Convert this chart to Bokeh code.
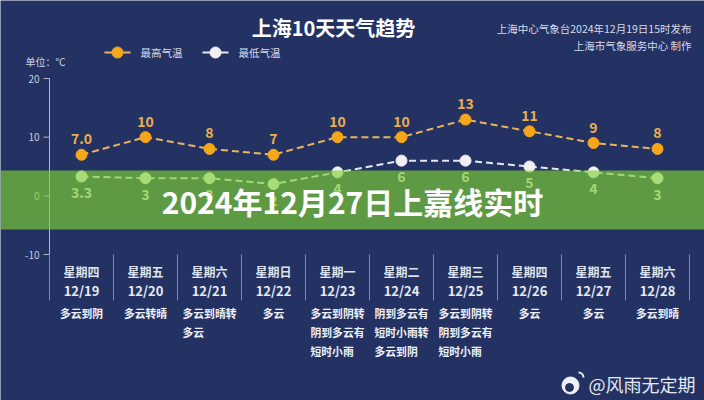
from bokeh.plotting import figure
from bokeh.models import Range1d, BoxAnnotation, Label
from bokeh.core.properties import value
from bokeh.embed import file_html
from bokeh.resources import INLINE

# ---------------- data ----------------
days = ["星期四", "星期五", "星期六", "星期日", "星期一", "星期二", "星期三", "星期四", "星期五", "星期六"]
dates = ["12/19", "12/20", "12/21", "12/22", "12/23", "12/24", "12/25", "12/26", "12/27", "12/28"]
high = [7, 10, 8, 7, 10, 10, 13, 11, 9, 8]
high_labels = ["7.0", "10", "8", "7", "10", "10", "13", "11", "9", "8"]
low = [3.3, 3, 3, 2, 4, 6, 6, 5, 4, 3]
low_labels = ["3.3", "3", "3", "2", "4", "6", "6", "5", "4", "3"]
weather = ["多云到阴", "多云转晴", "多云到晴转\n多云", "多云",
           "多云到阴转\n阴到多云有\n短时小雨", "阴到多云有\n短时小雨转\n多云到阴",
           "多云到阴转\n阴到多云有\n短时小雨", "多云", "多云", "多云到晴"]
yticks = [-10, 0, 10, 20]

# ---------------- layout helpers ----------------
W, H = 704, 400
OX, OY = 0, 0
X0, DX = 81, 64           # screen x of first band centre, band width
Y20, YM10 = 78, 254       # screen y of 20 and -10
K = (YM10 - Y20) / 30.0


def X(px):
    return (px - X0) / DX


def Y(py):
    return 20 - (py - Y20) / K


NAVY = "#233263"
FONT = "Noto Sans CJK SC"
idx = list(range(len(dates)))

p = figure(width=W, height=H, x_range=Range1d(X(OX), X(OX + W)), y_range=Range1d(Y(OY + H), Y(OY)),
           x_axis_location=None, y_axis_location=None, toolbar_location=None, output_backend="svg",
           min_border=0, background_fill_color=NAVY, border_fill_color=NAVY, outline_line_color=None)
p.grid.grid_line_color = None

# ---------------- y axis ----------------
AX = "#b3b9cc"
p.segment(x0=[-0.5], y0=[min(yticks)], x1=[-0.5], y1=[max(yticks)], line_color=AX, line_width=1)
p.segment(x0=[-0.5] * len(yticks), y0=yticks, x1=[X(43)] * len(yticks), y1=yticks, line_color=AX, line_width=1)
p.text(x=[-0.5] * len(yticks), y=yticks, text=[str(t) for t in yticks], x_offset=-10,
       text_align="right", text_baseline="middle", text_font=value(FONT), text_font_size="10px",
       text_color="#c8cddd")

# band separators below the chart
n1 = len(dates) + 1
p.segment(x0=[i - 0.5 for i in range(n1)], y0=[min(yticks)] * n1,
          x1=[i - 0.5 for i in range(n1)], y1=[Y(300)] * n1,
          line_color="#7f88a8", line_width=1)

# ---------------- series ----------------
ORANGE = "#f5a71c"
WHITE = "#f2eef3"
p.line(idx, high, line_color="#e9b45e", line_width=2, line_dash="7 4")
p.scatter(idx, high, size=11, fill_color=ORANGE, line_color=ORANGE)
p.line(idx, low, line_color="#e6e6ef", line_width=2, line_dash="7 4")
p.scatter(idx, low, size=11, fill_color=WHITE, line_color=WHITE)

p.text(x=idx, y=high, text=high_labels, y_offset=-16, text_align="center", text_baseline="middle",
       text_font=value(FONT), text_font_size="14px", text_font_style="bold", text_color="#ebb04a")
p.text(x=idx, y=low, text=low_labels, y_offset=16, text_align="center", text_baseline="middle",
       text_font=value(FONT), text_font_size="14px", text_font_style="bold", text_color="#e2dfe8")

# ---------------- bottom table ----------------
p.text(x=idx, y=[Y(271)] * len(idx), text=days, text_align="center", text_baseline="middle",
       text_font=value(FONT), text_font_size="12px", text_font_style="bold", text_color="#dfe3ee")
p.text(x=idx, y=[Y(290)] * len(idx), text=dates, text_align="center", text_baseline="middle",
       text_font=value(FONT), text_font_size="13px", text_font_style="bold", text_color="#e8ebf3")
FS = 10.8
wx, wy, wt, wo = [], [], [], []
for i, w in enumerate(weather):
    lines = w.split("\n")
    width = max(len(l) for l in lines) * FS
    for j, l in enumerate(lines):
        wx.append(i)
        wy.append(Y(312 + 19 * j))
        wt.append(l)
        wo.append(-width / 2)
p.text(x=wx, y=wy, text=wt, x_offset=wo, text_align="left", text_baseline="middle",
       text_font=value(FONT), text_font_size=f"{FS}px", text_font_style="bold", text_color="#f0f1f6")

# ---------------- header ----------------
p.add_layout(Label(x=X(333), y=Y(27), text="上海10天天气趋势", text_align="center", text_baseline="middle",
                   text_font=FONT, text_font_size="20px", text_font_style="bold", text_color="#ffffff"))
p.add_layout(Label(x=X(691), y=Y(28), text="上海中心气象台2024年12月19日15时发布", text_align="right",
                   text_baseline="middle", text_font=FONT, text_font_size="10.5px", text_color="#d7dbe8"))
p.add_layout(Label(x=X(691), y=Y(45), text="上海市气象服务中心 制作", text_align="right",
                   text_baseline="middle", text_font=FONT, text_font_size="10.5px", text_color="#d7dbe8"))
p.add_layout(Label(x=X(25), y=Y(61), text="单位：℃", text_align="left", text_baseline="middle",
                   text_font=FONT, text_font_size="10px", text_color="#cdd2e0"))

# legend
p.segment(x0=[X(104), X(202)], y0=[Y(52), Y(52)], x1=[X(130), X(228)], y1=[Y(52), Y(52)],
          line_color=["#e9b45e", "#e6e6ef"], line_width=2)
p.scatter([X(117), X(215)], [Y(52), Y(52)], size=11, fill_color=[ORANGE, WHITE], line_color=[ORANGE, WHITE])
for tx, t in [(140, "最高气温"), (238, "最低气温")]:
    p.add_layout(Label(x=X(tx), y=Y(52), text=t, text_align="left", text_baseline="middle",
                       text_font=FONT, text_font_size="10.5px", text_color="#d7dbe8"))

# watermark
p.scatter([X(570)], [Y(385)], size=17, marker="circle", fill_color="#eef0f5", line_color="#eef0f5")
p.scatter([X(569)], [Y(387)], size=8, marker="circle", fill_color=NAVY, line_color=NAVY)
p.arc(x=[X(578)], y=[Y(377)], radius=[5 / DX], start_angle=0, end_angle=1.57, line_color="#eef0f5",
      line_width=2)
p.add_layout(Label(x=X(695), y=Y(383), text="@风雨无定期", text_align="right", text_baseline="middle",
                   text_font=FONT, text_font_size="18px", text_color="#e6e9f1"))

# ---------------- overlay banner ----------------
p.add_layout(BoxAnnotation(top=Y(170), bottom=Y(229), fill_color="#7ed232", fill_alpha=0.65, line_color=None))
p.add_layout(Label(x=X(352), y=Y(200), text="2024年12月27日上嘉线实时", text_align="center",
                   text_baseline="middle", text_font=FONT, text_font_size="30px", text_font_style="bold",
                   text_color="#ffffff"))

open("out.html", "w").write(file_html(p, INLINE))
